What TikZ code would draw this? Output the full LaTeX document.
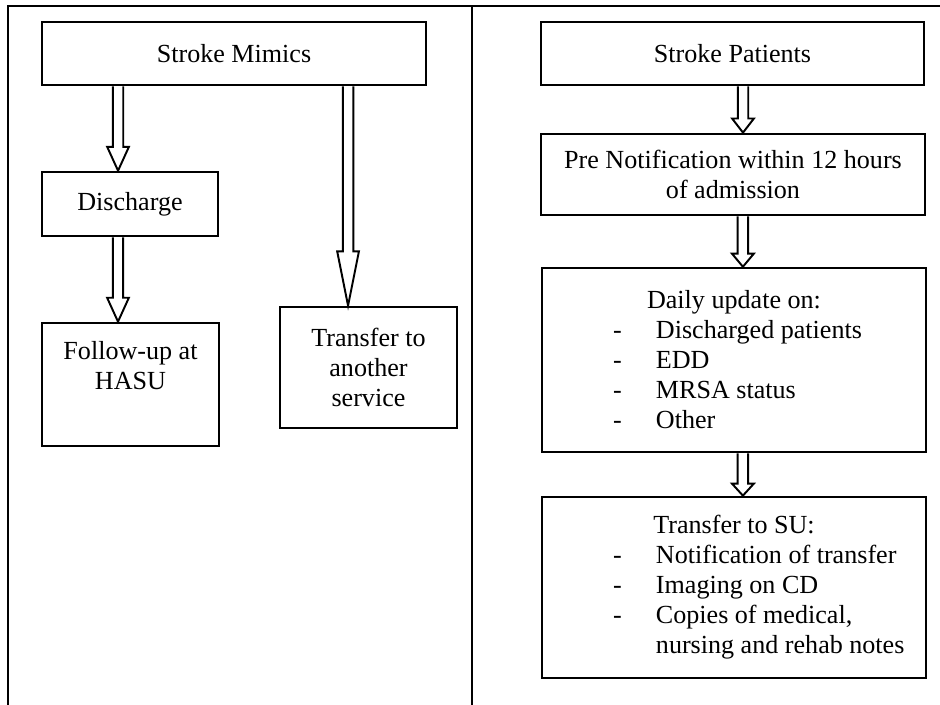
\documentclass[tikz,border=0pt]{standalone}
\usepackage{fontspec}
\setmainfont{Liberation Serif}
\usetikzlibrary{calc}
\newcommand{\itm}[1]{\par\hspace*{32.7pt}\makebox[19.7pt][l]{-}#1}

\begin{document}
\begin{tikzpicture}[x=0.46pt,y=-0.46pt,
    flowbox/.style={draw,line width=1.2pt,inner sep=0pt,align=center,
        font=\fontsize{12pt}{13.8pt}\selectfont},
    listbox/.style={flowbox,text width=176.6pt,align=flush left,minimum height=#1},
    fatarrow/.style={draw,line width=0.9pt,to path={
        let \p1=(\tikztostart), \p2=(\tikztotarget) in
        (\x1-2.4pt,\y1) -- (\x1-2.4pt,\y2+#1) -- (\x1-5pt,\y2+#1) -- (\x2,\y2)
        -- (\x1+5pt,\y2+#1) -- (\x1+2.4pt,\y2+#1) -- (\x1+2.4pt,\y1)}}]
  \useasboundingbox (0,0) rectangle (940,705);
  \draw[line width=1.3pt] (8,705) -- (8,6) -- (940,6);
  \draw[line width=1.3pt] (472,6) -- (472,705);

  \node[flowbox,minimum width=176.6pt,minimum height=29pt] (mimics) at (234,53.5) {Stroke Mimics};
  \node[flowbox,minimum width=81pt,minimum height=29.4pt] (disch) at (130,204) {Discharge};
  \node[flowbox,minimum width=81.4pt,minimum height=56.6pt] (follow) at (130.5,384.5) {Follow-up at\\HASU\\[4pt]~};
  \node[flowbox,minimum width=81.4pt,minimum height=55.7pt] (transf) at (368.5,367.5) {Transfer to\\another\\service};

  \node[flowbox,minimum width=176.2pt,minimum height=29pt] (patients) at (732.5,53.5) {Stroke Patients};
  \node[flowbox,minimum width=176.6pt,minimum height=37.3pt] (prenot) at (733,174.5) {Pre Notification within 12 hours\\of admission};
  \node[listbox=84.6pt] (daily) at (734,360) {\centerline{Daily update on:}
    \itm{Discharged patients}\itm{EDD}\itm{MRSA status}\itm{Other}};
  \node[listbox=83.3pt] (transu) at (734,587.5) {\centerline{Transfer to SU:}
    \itm{Notification of transfer}\itm{Imaging on CD}\itm{Copies of medical,}
    \par\hspace*{52.4pt}nursing and rehab notes};

  \coordinate (inDisch) at ([xshift=-5.5pt]disch.north);
  \coordinate (inFollow) at ([xshift=-5.75pt]follow.north);
  \coordinate (inTransf) at ([xshift=-9.4pt]transf.north);
  \coordinate (inPrenot) at ([xshift=4.6pt]prenot.north);
  \coordinate (inDaily) at ([xshift=4.1pt]daily.north);
  \coordinate (inTransu) at ([xshift=4.1pt]transu.north);
  \draw[fatarrow=11pt] (mimics.south -| inDisch) to (inDisch);
  \draw[fatarrow=11pt] (disch.south -| inFollow) to (inFollow);
  \draw[fatarrow=25pt] (mimics.south -| inTransf) to (inTransf);
  \draw[fatarrow=6.5pt] (patients.south -| inPrenot) to (inPrenot);
  \draw[fatarrow=6pt] (prenot.south -| inDaily) to (inDaily);
  \draw[fatarrow=5.5pt] (daily.south -| inTransu) to (inTransu);
\end{tikzpicture}
\end{document}
